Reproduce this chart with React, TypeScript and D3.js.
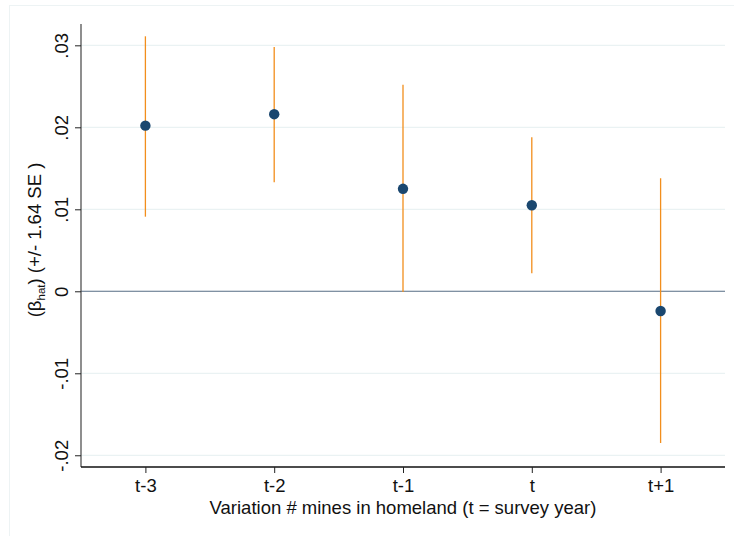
import { useEffect, useRef } from 'react';
import * as d3 from 'd3';

const periods = ['t-3', 't-2', 't-1', 't', 't+1'];
const betas = [0.0202, 0.0216, 0.0125, 0.0105, -0.0024];
const ciLow = [0.0091, 0.0133, -0.0001, 0.0022, -0.0185];
const ciHigh = [0.0311, 0.0298, 0.0252, 0.0188, 0.0138];
const yTicks = [-0.02, -0.01, 0, 0.01, 0.02, 0.03];
const yTickLabels = ['-.02', '-.01', '0', '.01', '.02', '.03'];

const W = 734;
const H = 536;
const margin = { top: 24, right: 9, bottom: 69, left: 81 };

const App = () => {
  const svgRef = useRef<SVGSVGElement | null>(null);

  useEffect(() => {
    if (!svgRef.current) return;
    const svg = d3.select(svgRef.current);
    svg.selectAll('*').remove();
    const font = '"Liberation Sans", Arial, sans-serif';
    const fs = 18.5;

    // outer graph region border
    svg.append('rect')
      .attr('x', 9.5).attr('y', 5.5)
      .attr('width', W + 10).attr('height', H + 10)
      .attr('fill', 'white').attr('stroke', '#edf3f4');

    const x = d3.scalePoint()
      .domain(periods)
      .range([margin.left, W - margin.right])
      .padding(0.5);

    const y = d3.scaleLinear()
      .domain([-0.02143, 0.0326])
      .range([H - margin.bottom, margin.top]);

    // gridlines
    svg.append('g').selectAll('line')
      .data(yTicks.filter(t => t !== 0)).join('line')
      .attr('x1', margin.left).attr('x2', W - margin.right)
      .attr('y1', d => y(d)).attr('y2', d => y(d))
      .attr('stroke', '#eaf2f3').attr('stroke-width', 1.2);

    // zero line
    svg.append('line')
      .attr('x1', margin.left).attr('x2', W - margin.right)
      .attr('y1', y(0)).attr('y2', y(0))
      .attr('stroke', '#566d85').attr('stroke-width', 1.1);

    const data = periods.map((p, i) => ({ p, b: betas[i], lo: ciLow[i], hi: ciHigh[i] }));

    // confidence intervals
    svg.append('g').selectAll('line')
      .data(data).join('line')
      .attr('x1', d => x(d.p)!).attr('x2', d => x(d.p)!)
      .attr('y1', d => y(d.lo)).attr('y2', d => y(d.hi))
      .attr('stroke', '#f28e1c').attr('stroke-width', 1.3);

    // point estimates
    svg.append('g').selectAll('circle')
      .data(data).join('circle')
      .attr('cx', d => x(d.p)!).attr('cy', d => y(d.b))
      .attr('r', 5.2)
      .attr('fill', '#1a476f');

    // y axis
    const yAxis = svg.append('g')
      .attr('transform', `translate(${margin.left},0)`)
      .call(d3.axisLeft(y).tickValues(yTicks).tickSize(6).tickFormat((_, i) => yTickLabels[i]));
    yAxis.select('.domain').attr('stroke', '#444').attr('stroke-width', 1.2)
      .attr('d', `M0,${margin.top}V${H - margin.bottom}`);
    yAxis.selectAll('.tick line').attr('stroke', '#222');
    yAxis.selectAll('.tick text')
      .attr('font-family', font).attr('font-size', fs).attr('fill', '#111')
      .attr('x', null).attr('dy', null)
      .attr('text-anchor', 'middle')
      .attr('transform', 'translate(-13,0) rotate(-90)');

    // x axis
    const xAxis = svg.append('g')
      .attr('transform', `translate(0,${H - margin.bottom})`)
      .call(d3.axisBottom(x).tickSize(6));
    xAxis.select('.domain').attr('stroke', '#111').attr('stroke-width', 1.5)
      .attr('d', `M${margin.left},0H${W - margin.right}`);
    xAxis.selectAll('.tick line').attr('stroke', '#222');
    xAxis.selectAll('.tick text')
      .attr('font-family', font).attr('font-size', fs).attr('fill', '#111')
      .attr('y', 12);

    // x title
    svg.append('text')
      .attr('x', (margin.left + W - margin.right) / 2).attr('y', 514)
      .attr('text-anchor', 'middle')
      .attr('font-family', font).attr('font-size', fs).attr('fill', '#111')
      .text('Variation # mines in homeland (t = survey year)');

    // y title
    const yt = svg.append('text')
      .attr('transform', `translate(41,240) rotate(-90)`)
      .attr('text-anchor', 'middle')
      .attr('font-family', font).attr('font-size', fs).attr('fill', '#111');
    yt.append('tspan').text('(β');
    yt.append('tspan').attr('font-size', 11.5).attr('dy', 4).text('hat');
    yt.append('tspan').attr('dy', -4).text(') (+/- 1.64 SE )');
  }, []);

  return (
    <div style={{ position: 'absolute', left: 0, top: 0 }}>
      <svg ref={svgRef} width={W} height={H} style={{ display: 'block' }} />
    </div>
  );
};

export default App;
